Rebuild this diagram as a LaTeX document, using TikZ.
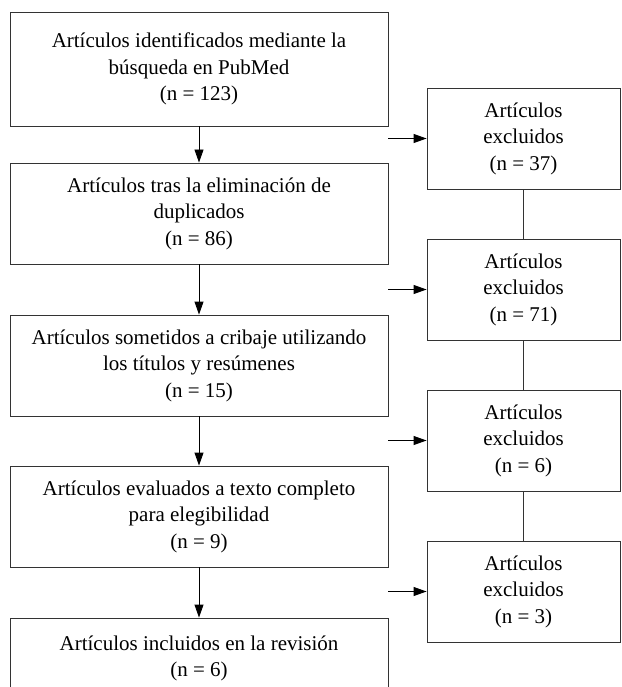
\documentclass[tikz,border=0pt]{standalone}
\usepackage{fontspec}
\setmainfont{Liberation Serif}
\usetikzlibrary{arrows.meta}
\tikzstyle{boxl}=[draw=black!80,line width=0.9pt,minimum width=378pt,minimum height=101pt,inner sep=0pt,align=center,font={\fontsize{21}{26.5}\selectfont}]
\tikzstyle{boxr}=[boxl,minimum width=193pt]
\tikzstyle{flecha}=[-{Triangle[length=13pt,width=9pt]},line width=0.9pt]
\tikzstyle{linea}=[draw=black!80,line width=0.9pt]

\begin{document}
\begin{tikzpicture}[x=1pt,y=-1pt]
    \useasboundingbox (0,0) rectangle (621,687);
    \node[boxl,minimum height=114pt] (b1) at (199,69) {Artículos identificados mediante la\\búsqueda en PubMed\\(n = 123)};
    \node[boxl] (b2) at (199,213.5) {Artículos tras la eliminación de\\duplicados\\(n = 86)};
    \node[boxl] (b3) at (199,365.5) {Artículos sometidos a cribaje utilizando\\los títulos y resúmenes\\(n = 15)};
    \node[boxl] (b4) at (199,516.5) {Artículos evaluados a texto completo\\para elegibilidad\\(n = 9)};
    \node[boxl,minimum height=81pt] (b5) at (199,658.5) {Artículos incluidos en la revisión\\(n = 6)};
    \node[boxr] (r1) at (523.5,138.5) {Artículos\\excluidos\\(n = 37)};
    \node[boxr] (r2) at (523.5,289.5) {Artículos\\excluidos\\(n = 71)};
    \node[boxr] (r3) at (523.5,440.5) {Artículos\\excluidos\\(n = 6)};
    \node[boxr] (r4) at (523.5,591.5) {Artículos\\excluidos\\(n = 3)};

    \foreach \from/\to in {b1/b2,b2/b3,b3/b4,b4/b5}
    \draw[flecha] (\from) -- (\to);
    \foreach \from/\to in {r1/r2,r2/r3,r3/r4}
    \draw[linea] (\from) -- (\to);
    \foreach \i in {1,...,4}{
    \coordinate (s\i) at (b1.east |- r\i.west);
    \draw[flecha] (s\i) -- (r\i);
    }
\end{tikzpicture}
\end{document}
